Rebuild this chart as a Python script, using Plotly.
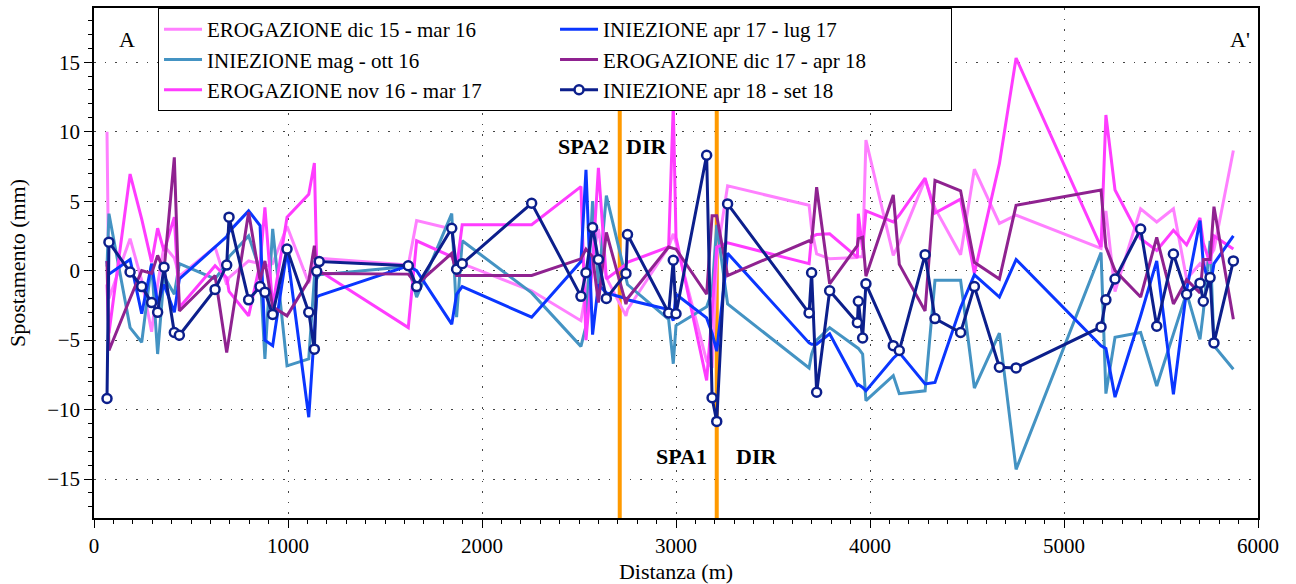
import plotly.graph_objects as go

# Survey benchmark positions along the A - A' section (m)
distanza = [67, 77, 186, 246, 297, 328, 361, 414, 440, 624,
            684, 696, 797, 856, 881, 921, 995, 1107, 1136, 1148,
            1161, 1620, 1663, 1844, 1869, 1898, 2256, 2510, 2536, 2570,
            2600, 2641, 2742, 2750, 2962, 2986, 3000, 3158, 3186, 3210,
            3266, 3686, 3699, 3725, 3792, 3935, 3940, 3962, 3979, 4120,
            4151, 4284, 4335, 4467, 4538, 4667, 4753, 5191, 5216, 5263,
            5395, 5478, 5564, 5632, 5701, 5718, 5753, 5773, 5873]

# Vertical displacement per campaign (mm)
erog_dic15_mar16 = [10.0, -2.0, 2.3, -0.7, -4.4, -1.0, 1.8, 0.9, -0.4, 1.7,
                    -1.0, -0.5, 0.7, 0.5, 0.3, 0.5, 3.2, -0.9, 0.5, 0.9,
                    0.9, 0.4, 3.6, 3.0, 0.1, 0.5, -1.45, -3.6, -1.5, 1.0,
                    3.0, -0.5, -3.25, -2.8, 1.7, 2.65, 2.0, -6.5, -7.0, 1.0,
                    6.1, 4.7, 3.0, 1.2, 0.85, 0.95, 1.0, 1.0, 9.4, 1.1,
                    2.0, 6.55, 4.5, 1.15, 7.3, 3.4, 4.0, 1.6, 4.3, -1.5,
                    4.45, 3.5, 4.45, -0.6, 0.5, 0.2, 1.0, 1.5, 8.65]

iniez_mag_ott16 = [0.3, 4.1, -4.1, -5.15, 0.5, -6.0, -0.4, -1.7, 0.5, -0.6,
                   0.5, 1.0, 2.5, 0.0, -6.35, 3.0, -6.85, -6.35, -0.5, -0.6,
                   -0.3, 0.3, -1.9, 4.1, -3.35, 2.15, -1.6, -5.45, -4.0, 5.0,
                   -1.0, 5.4, -0.5, -1.0, -3.5, -6.7, -3.95, -2.6, -1.5, 3.3,
                   -2.4, -7.0, -6.0, -5.0, -4.1, -5.5, -5.6, -6.0, -9.35, -7.55,
                   -8.85, -8.65, -0.7, -0.7, -8.45, -4.5, -14.3, 1.3, -8.85, -4.8,
                   -4.45, -8.3, -4.55, -1.6, -4.95, -3.0, 2.15, -5.4, -7.1]

erog_nov16_mar17 = [-1.0, -4.5, 6.95, 3.7, 0.6, 3.05, 1.4, 3.85, -2.65, 0.35,
                    -0.5, -1.5, -3.25, 0.5, 4.55, -2.6, 3.85, 5.5, 7.75, 0.35,
                    0.0, -4.1, 2.15, 1.0, 0.2, 3.3, 3.3, 6.05, -5.0, 0.5,
                    7.4, -0.6, 0.45, 0.6, 1.7, 11.9, 2.4, -7.9, -3.0, 1.7,
                    2.0, 0.5, 2.45, 2.6, 2.65, 0.95, 4.1, 1.5, 4.3, 3.5,
                    4.0, 6.65, 4.15, 5.15, -0.2, 7.7, 15.3, 1.7, 11.2, 5.8,
                    2.3, 1.45, 2.9, 1.85, 3.8, 2.0, 0.5, 2.5, 1.55]

iniez_apr17_lug17 = [0.7, -0.25, 0.8, -3.1, 0.5, -2.4, -1.0, -3.0, -0.6, 1.7,
                     2.45, 2.8, 4.3, 3.25, -5.0, -5.4, 1.45, -10.55, -4.45, -1.9,
                     -1.8, 0.35, 0.0, -3.85, -1.7, -1.15, -3.35, 0.65, 7.25, -4.6,
                     -1.0, -1.6, -2.0, -2.1, -2.8, -3.6, -1.7, -3.4, -4.5, -5.8,
                     1.25, -5.2, -5.3, -5.3, -4.55, -8.25, -8.2, -8.4, -8.65, -6.3,
                     -5.9, -8.15, -8.05, -2.65, -0.3, -1.9, 0.8, -5.4, -5.6, -9.1,
                     -3.25, 0.7, -8.9, -1.4, 3.6, 0.5, -1.2, 0.5, 2.5]

erog_dic17_apr18 = [0.7, -5.75, -2.0, 0.0, -0.2, 1.1, 0.0, 8.15, -2.9, -0.35,
                    -5.9, -4.8, 4.2, -0.7, 0.7, -2.6, -3.25, -0.7, 1.8, -0.25,
                    -0.2, -0.25, -1.0, 1.25, -0.35, -0.35, -0.35, 0.85, 1.55, 1.0,
                    -2.3, 2.75, -2.4, -2.0, 1.7, 1.6, 1.55, -1.7, 3.95, 3.95,
                    -0.35, 2.15, 2.0, 6.0, -0.95, 1.8, 2.3, 2.4, -0.4, 5.45,
                    0.45, -2.9, 6.5, 5.75, 0.6, -0.6, 4.7, 5.8, 1.7, 0.0,
                    -1.9, 2.4, -2.4, -0.65, -1.6, 0.8, 0.8, 4.6, -3.5]

iniez_apr18_set18 = [-9.2, 2.05, -0.1, -1.15, -2.3, -3.0, 0.25, -4.45, -4.65, -1.35,
                     0.4, 3.85, -2.1, -1.15, -1.55, -3.15, 1.55, -3.0, -5.65, -0.05,
                     0.65, 0.35, -1.15, 3.05, 0.1, 0.5, 4.85, -1.85, -0.15, 3.1,
                     0.8, -2.0, -0.2, 2.6, -3.05, 0.75, -3.1, 8.3, -9.15, -10.85,
                     4.8, -3.05, -0.15, -8.75, -1.45, -3.75, -2.2, -4.85, -0.95, -5.4,
                     -5.75, 1.15, -3.45, -4.45, -1.15, -6.95, -7.0, -4.05, -2.1, -0.6,
                     3.0, -4.0, 1.2, -1.7, -0.9, -2.2, -0.5, -5.2, 0.7]

# Well positions (m)
pozzi_x = [2710, 3210]

X_RANGE = [0, 6000]
Y_RANGE = [-17.8, 18.9]

FONT = "Liberation Serif"

# (name, values, colour, legend rank so the legend reads in two columns)
campagne = [
    ("EROGAZIONE dic 15 - mar 16", erog_dic15_mar16, "#ff80ff", 1),
    ("INIEZIONE mag - ott 16", iniez_mag_ott16, "#4493c3", 3),
    ("EROGAZIONE nov 16 - mar 17", erog_nov16_mar17, "#ff3cff", 5),
    ("INIEZIONE apr 17 - lug 17", iniez_apr17_lug17, "#0a36ff", 2),
    ("EROGAZIONE dic 17 - apr 18", erog_dic17_apr18, "#8f2290", 4),
]

fig = go.Figure()

for xp in pozzi_x:
    fig.add_trace(go.Scatter(
        x=[xp, xp], y=Y_RANGE, mode="lines",
        line=dict(color="#ff9a00", width=4),
        showlegend=False, hoverinfo="skip",
    ))

for nome, valori, colore, rank in campagne:
    fig.add_trace(go.Scatter(
        x=distanza, y=valori, mode="lines", name=nome,
        line=dict(color=colore, width=3),
        legendrank=rank,
    ))

fig.add_trace(go.Scatter(
    x=distanza, y=iniez_apr18_set18, mode="lines+markers",
    name="INIEZIONE apr 18 - set 18",
    line=dict(color="#0c1f8c", width=3),
    marker=dict(symbol="circle", size=9, color="white",
                line=dict(color="#0c1f8c", width=2.5)),
    legendrank=6,
))

grid_dash = "1.5px,9px"
fig.update_xaxes(
    range=X_RANGE, dtick=1000, tick0=0, automargin=False,
    ticks="outside", ticklen=8, tickwidth=1, tickcolor="black",
    minor=dict(dtick=100, ticks="outside", ticklen=4, tickwidth=1,
               tickcolor="black", showgrid=False),
    showgrid=True, gridcolor="#444444", gridwidth=1, griddash=grid_dash,
    zeroline=False, showline=True, linecolor="black", linewidth=1.5,
    mirror=True,
    title=dict(text="Distanza (m)", font=dict(size=22, family=FONT, color="black"),
               standoff=10),
    tickfont=dict(size=21, family=FONT, color="black"),
)
fig.update_yaxes(
    range=Y_RANGE, dtick=5, tick0=0, automargin=False,
    ticks="outside", ticklen=8, tickwidth=1, tickcolor="black",
    minor=dict(dtick=1, ticks="outside", ticklen=4, tickwidth=1,
               tickcolor="black", showgrid=False),
    showgrid=True, gridcolor="#444444", gridwidth=1, griddash=grid_dash,
    zeroline=False, showline=True, linecolor="black", linewidth=1.5,
    mirror=True,
    title=dict(text="Spostamento (mm)", font=dict(size=22, family=FONT, color="black"),
               standoff=16),
    tickfont=dict(size=21, family=FONT, color="black"),
)

testi = [
    dict(x=170, y=16.6, text="A", xanchor="center", bold=False),
    dict(x=5907, y=16.6, text="A'", xanchor="center", bold=False),
    dict(x=2665, y=8.9, text="SPA2", xanchor="right", bold=True),
    dict(x=2730, y=8.9, text="DIR", xanchor="left", bold=True),
    dict(x=3170, y=-13.4, text="SPA1", xanchor="right", bold=True),
    dict(x=3300, y=-13.4, text="DIR", xanchor="left", bold=True),
]
for t in testi:
    fig.add_annotation(
        x=t["x"], y=t["y"], xref="x", yref="y", showarrow=False,
        text=f"<b>{t['text']}</b>" if t["bold"] else t["text"],
        xanchor=t["xanchor"], yanchor="middle",
        font=dict(size=22, family=FONT, color="black"),
    )

fig.update_layout(
    width=1296, height=584,
    margin=dict(l=94, r=38, t=8, b=66),
    paper_bgcolor="white", plot_bgcolor="white",
    font=dict(family=FONT, color="black"),
    legend=dict(
        orientation="h", x=0.055, y=1, xanchor="left", yanchor="top",
        bgcolor="white", bordercolor="black", borderwidth=1,
        font=dict(size=21, family=FONT, color="black"),
        entrywidth=343, itemwidth=38, traceorder="normal",
    ),
)

fig.write_html("out.html")
